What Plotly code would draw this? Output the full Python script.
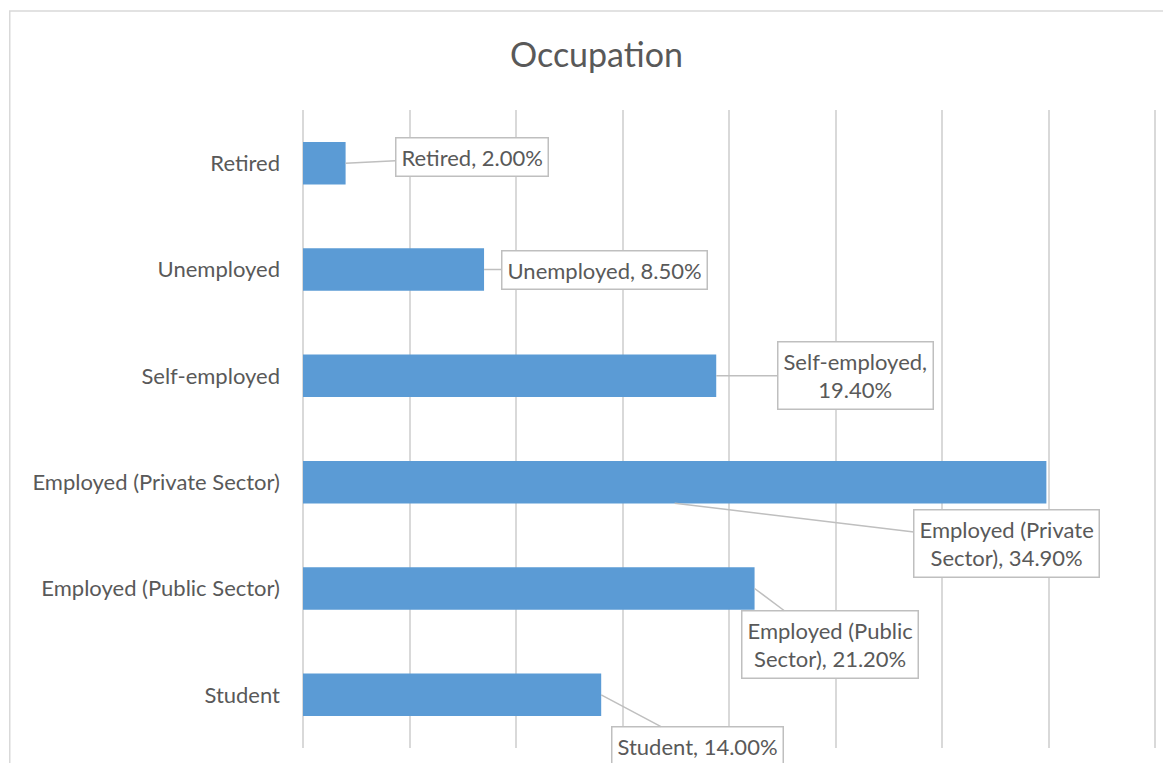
import plotly.graph_objects as go

categories = ["Retired", "Unemployed", "Self-employed", "Employed (Private Sector)",
              "Employed (Public Sector)", "Student"]
values = [2.00, 8.50, 19.40, 34.90, 21.20, 14.00]
label_texts = ["Retired, 2.00%", "Unemployed, 8.50%", "Self-employed,<br>19.40%",
               "Employed (Private<br>Sector), 34.90%", "Employed (Public<br>Sector), 21.20%",
               "Student, 14.00%"]
grid_ticks = [0, 5, 10, 15, 20, 25, 30, 35, 40]
# callout offsets (pixels) from the anchor point to the label box centre
label_dx = [126, 120, 139, 332, 75, 96]
label_dy = [-6, 0, 0, 40, 56, 51]
# where the pointer touches the bar: fraction of bar length, vertical shift in px
anchor_frac = [1, 1, 1, 0.5, 1, 1]
anchor_shift = [0, 0, 0, -21, 0, 0]

FONT = "Lato"
TXT = "#595959"
GRID = "#D9D9D9"
BAR = "#5B9BD5"

fig = go.Figure(go.Bar(
    x=values, y=categories, orientation="h", width=0.4,
    marker=dict(color=BAR, line=dict(width=0)),
    hoverinfo="skip",
))

for c, v, t, dx, dy, fr, sh in zip(categories, values, label_texts, label_dx, label_dy,
                                   anchor_frac, anchor_shift):
    fig.add_annotation(
        x=v * fr, y=c, yshift=sh, text=t, showarrow=True, arrowhead=0,
        arrowwidth=1.5, arrowcolor="#BFBFBF", ax=dx, ay=dy, standoff=0,
        bordercolor="#BFBFBF", borderwidth=1.5, borderpad=5, bgcolor="white",
        font=dict(family=FONT, size=22, color=TXT), align="center",
    )

# outer chart border
fig.add_shape(type="rect", xref="paper", yref="paper", x0=-0.341, x1=1.05,
              y0=-0.06, y1=1.155, line=dict(color=GRID, width=1.5), layer="below")

fig.update_layout(
    width=1163, height=755,
    margin=dict(l=295, r=8, t=102, b=15),
    paper_bgcolor="white", plot_bgcolor="white",
    title=dict(text="Occupation", x=0.506, xanchor="center", xref="container",
               y=1 - 47 / 755, yanchor="middle", yref="container",
               font=dict(family=FONT, size=34, color=TXT)),
    xaxis=dict(range=[0, 40.375], tickvals=grid_ticks,
               showticklabels=False, showgrid=True,
               gridcolor=GRID, gridwidth=1.5, zeroline=True, zerolinecolor=GRID,
               zerolinewidth=1.5, showline=False, fixedrange=True),
    yaxis=dict(autorange="reversed", showgrid=False, showline=False, ticks="",
               ticklabelstandoff=22,
               tickfont=dict(family=FONT, size=22, color=TXT)),
    showlegend=False,
)

fig.write_html("out.html")
